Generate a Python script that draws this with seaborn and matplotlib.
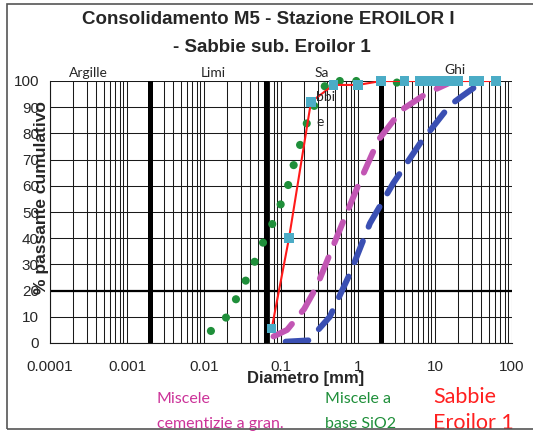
import numpy as np
import pandas as pd
import seaborn as sns
import matplotlib.pyplot as plt
from matplotlib.ticker import LogLocator, FuncFormatter
from matplotlib.patches import Rectangle

sns.set_style('white')
plt.rcParams['font.family'] = ['Liberation Sans', 'DejaVu Sans']

# Sabbie Eroilor 1 (red line, cyan squares)
sabbie_d = [0.0757, 0.127, 0.245, 0.48, 1.0, 2.0, 4.0, 6.3, 8.0, 10.0, 12.5, 16.0, 20.0, 31.5, 38.0, 62.0]
sabbie_p = [5.5, 40.0, 92.0, 98.5, 98.5, 100, 100, 100, 100, 100, 100, 100, 100, 100, 100, 100]

# Miscele a base SiO2 (green dots)
sio2_d = [0.0123, 0.0193, 0.026, 0.0348, 0.0455, 0.0584, 0.077, 0.099, 0.124, 0.146,
          0.177, 0.216, 0.27, 0.37, 0.58, 0.95, 3.2]
sio2_p = [4.6, 9.7, 16.7, 23.8, 31.0, 38.3, 45.4, 52.9, 60.3, 67.9,
          75.6, 83.8, 90.5, 98.0, 100, 100, 99.4]

# Miscele cementizie a gran. (magenta dashes)
cem_d = [0.08, 0.12, 0.2, 0.29, 0.54, 1.0, 1.84, 3.7, 7.8, 15.7, 25.0]
cem_p = [2.5, 5.0, 13.0, 21.5, 41.0, 60.0, 77.5, 89.0, 95.3, 99.4, 100]

# second grading envelope (blue dashes)
blu_d = [0.115, 0.23, 0.43, 0.79, 1.43, 2.87, 6.4, 15.7, 22.0, 36.0]
blu_p = [0.5, 1.0, 10.0, 26.6, 45.7, 61.0, 76.2, 90.8, 94.0, 98.5]

# class limits (mm)
limiti = [0.002, 0.063, 2.0]
y_ticks = list(range(0, 101, 10))
x_ticks = [0.0001, 0.001, 0.01, 0.1, 1, 10, 100]

fig = plt.figure(figsize=(5.33, 4.33), dpi=100)
ax = fig.add_axes([50 / 533, 1 - 343 / 433, 462 / 533, 262 / 433])

ax.set_xscale('log')
ax.set_xlim(0.0001, 100)
ax.set_ylim(0, 100)

# grid
ax.xaxis.set_minor_locator(LogLocator(base=10, subs=np.arange(2, 10), numticks=20))
ax.set_xticks(x_ticks)
ax.xaxis.set_major_formatter(FuncFormatter(lambda v, p: '{:g}'.format(v)))
ax.set_yticks(y_ticks)
ax.grid(True, which='both', axis='x', color='#1a1a1a', lw=0.75)
ax.grid(True, which='major', axis='y', color='#1a1a1a', lw=0.75)
ax.axhline(20, color='black', lw=1.6, zorder=1)
for d in limiti:
    ax.axvline(d, ymin=0.005, ymax=1, color='black', lw=3.6, zorder=2)

for s in ax.spines.values():
    s.set_color('#1a1a1a')
    s.set_linewidth(0.8)
ax.spines['top'].set_visible(False)
ax.spines['right'].set_visible(False)

ax.tick_params(axis='x', which='major', direction='out', length=6, width=0.8, color='#1a1a1a',
               labelsize=11, pad=6)
ax.tick_params(axis='x', which='minor', direction='out', length=4, width=0.8, color='#1a1a1a')
ax.tick_params(axis='y', length=0, labelsize=11, pad=8)

# curves
dash = (0, (3.8, 2.6))
sns.scatterplot(x=sio2_d, y=sio2_p, ax=ax, color='#1f8f3a', s=34, edgecolor='none',
                zorder=3, clip_on=False)
sns.lineplot(x=cem_d, y=cem_p, ax=ax, sort=False, estimator=None, color='#c256b4',
             lw=4.3, linestyle=dash, dash_capstyle='round', zorder=4)
sns.lineplot(x=blu_d, y=blu_p, ax=ax, sort=False, estimator=None, color='#3a4fb3',
             lw=4.3, linestyle=dash, dash_capstyle='round', zorder=4)
sns.lineplot(x=sabbie_d, y=sabbie_p, ax=ax, sort=False, estimator=None, color='#ff1a1a',
             lw=1.5, zorder=5)
sns.scatterplot(x=sabbie_d, y=sabbie_p, ax=ax, color='#4bacc6', marker='s', s=46,
                edgecolor='none', zorder=6, clip_on=False)

ax.set_xlabel('')
ax.set_ylabel('')

# class names in the plot
lab_font = ['Lato', 'DejaVu Sans']
fig.text(88 / 533, 1 - 73 / 433, 'Argille', ha='center', va='center', fontsize=10, family=lab_font)
fig.text(213 / 533, 1 - 73 / 433, 'Limi', ha='center', va='center', fontsize=10, family=lab_font)
fig.text(315 / 533, 1 - 73 / 433, 'Sa', ha='left', va='center', fontsize=10, family=lab_font)
fig.text(316 / 533, 1 - 97 / 433, 'bbi', ha='left', va='center', fontsize=10, family=lab_font)
fig.text(316 / 533, 1 - 122 / 433, 'e', ha='left', va='center', fontsize=10, family=lab_font)
fig.text(455 / 533, 1 - 70 / 433, 'Ghi', ha='center', va='center', fontsize=10, family=lab_font)

# titles and axis labels
fig.text(268 / 533, 1 - 20 / 433, 'Consolidamento M5 - Stazione EROILOR I', ha='center', va='center',
         fontsize=13.5, fontweight='bold')
fig.text(272 / 533, 1 - 47 / 433, '- Sabbie sub. Eroilor 1', ha='center', va='center',
         fontsize=13.5, fontweight='bold')
fig.text(306 / 533, 1 - 378 / 433, 'Diametro [mm]', ha='center', va='center',
         fontsize=12, fontweight='bold')
fig.text(42 / 533, 1 - 198 / 433, '% passante cumulativo', ha='center', va='center',
         rotation=90, fontsize=12.5, fontweight='bold')

# bottom legend texts
fig.text(157 / 533, 1 - 399 / 433, 'Miscele', ha='left', va='center', fontsize=11.5,
         color='#cc3399', family=lab_font)
fig.text(157 / 533, 1 - 424 / 433, 'cementizie a gran.', ha='left', va='center', fontsize=11.5,
         color='#cc3399', family=lab_font)
fig.text(325 / 533, 1 - 399 / 433, 'Miscele a', ha='left', va='center', fontsize=11.5,
         color='#1f8f3a', family=lab_font)
fig.text(325 / 533, 1 - 424 / 433, 'base SiO2', ha='left', va='center', fontsize=11.5,
         color='#1f8f3a', family=lab_font)
fig.text(433 / 533, 1 - 397 / 433, 'Sabbie', ha='left', va='center', fontsize=15.5,
         color='#ff2020', family=lab_font)
fig.text(433 / 533, 1 - 423 / 433, 'Eroilor 1', ha='left', va='center', fontsize=15.5,
         color='#ff2020', family=lab_font)

# chart frame
fig.patches.append(Rectangle((7 / 533, 1 - 429 / 433), 540 / 533, 425 / 433, transform=fig.transFigure,
                             fill=False, edgecolor='#555555', lw=1.2, zorder=10))

fig.savefig('out.png', dpi=100)
